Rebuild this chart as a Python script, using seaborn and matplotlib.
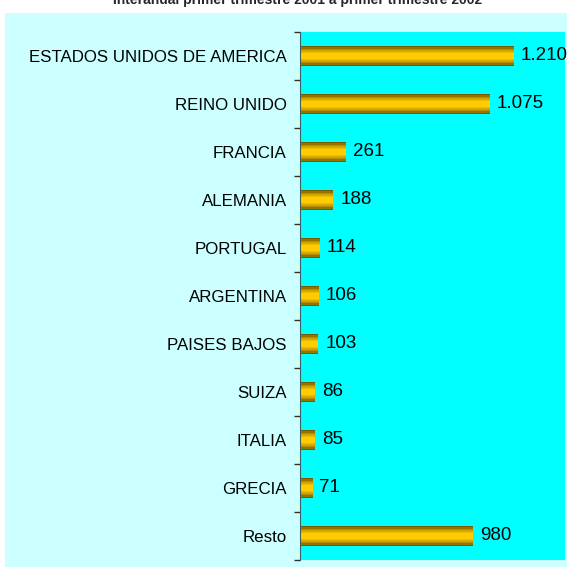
import matplotlib.pyplot as plt
import seaborn as sns
import pandas as pd
import numpy as np
from matplotlib.patches import Rectangle

paises = ["ESTADOS UNIDOS DE AMERICA", "REINO UNIDO", "FRANCIA", "ALEMANIA",
          "PORTUGAL", "ARGENTINA", "PAISES BAJOS", "SUIZA", "ITALIA", "GRECIA", "Resto"]
valores = [1210, 1075, 261, 188, 114, 106, 103, 86, 85, 71, 980]
etiquetas = ["1.210", "1.075", "261", "188", "114", "106", "103", "86", "85", "71", "980"]

df = pd.DataFrame({"pais": paises, "valor": valores})

sns.set_style("white")
plt.rcParams["font.family"] = ["Liberation Sans", "DejaVu Sans"]

fig = plt.figure(figsize=(5.72, 5.69), dpi=100)
fig.patch.set_facecolor("white")

# light cyan panel behind everything
fig.patches.append(Rectangle((5 / 572, 2 / 569), 562 / 572, 554 / 569,
                             transform=fig.transFigure, facecolor="#CCFFFF",
                             edgecolor="none", zorder=-1))

ax = fig.add_axes([300 / 572, 9 / 569, 265 / 572, 528 / 569])
ax.set_zorder(2)
ax.set_facecolor("#00FFFF")

# fake the gold gradient by stacking thinner bars
capas = [(0.42, "#7A5C00"), (0.37, "#967400"), (0.31, "#B48C00"),
         (0.25, "#D4A600"), (0.18, "#F0BE00"), (0.12, "#FFCC00")]
for ancho, color in capas:
    sns.barplot(data=df, x="valor", y="pais", orient="h", width=ancho,
                color=color, saturation=1, linewidth=0, ax=ax)

ax.bar_label(ax.containers[0], labels=etiquetas, padding=5, fontsize=13.5,
             color="black")

ax.set_xlim(0, 1500)
ax.set_ylim(10.5, -0.5)
ax.set_xlabel("")
ax.set_ylabel("")
ax.set_xticks([])
ax.tick_params(axis="y", which="major", left=False, length=0, pad=9.5,
               labelsize=12.2, labelcolor="black")
ax.set_yticks(np.arange(-0.5, 11, 1), minor=True)
ax.tick_params(axis="y", which="minor", left=True, length=4, color="#303030",
               width=1)
for lado in ["top", "right", "bottom"]:
    ax.spines[lado].set_visible(False)
ax.spines["left"].set_color("#406060")

fig.text(0.52, 0.993, "Interanual primer trimestre 2001 a primer trimestre 2002",
         ha="center", va="baseline", fontsize=10, fontweight="bold")

plt.savefig("out.png", dpi=100)
